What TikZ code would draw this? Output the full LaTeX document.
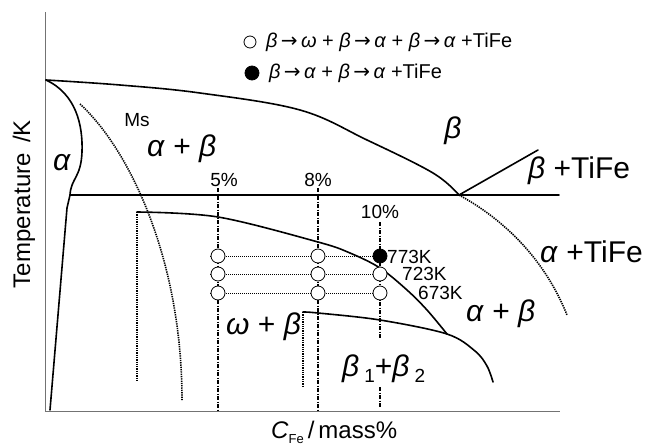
\documentclass[tikz,border=0pt]{standalone}
\usepackage{fontspec}
\setmainfont{Liberation Sans}
\newfontfamily\arrfont{DejaVu Sans}
\newcommand{\Galpha}{\textit{α}}
\newcommand{\Gbeta}{\textit{β}}
\newcommand{\Gomega}{\textit{ω}}
\newcommand{\Arr}{\,{\arrfont →}\,}
\begin{document}
\begin{tikzpicture}[x=1pt,y=-1pt]
\tikzset{
  phase/.style={line width=1.6pt, line join=round, line cap=round},
  axisline/.style={line width=0.9pt, draw=black!55},
  msline/.style={line width=1.6pt, dash pattern=on 1.3pt off 1pt},
  compline/.style={line width=1.2pt, dash pattern=on 4pt off 1.5pt on 1pt off 1.5pt},
  vdot/.style={line width=1.4pt, dash pattern=on 1.3pt off 1pt},
  rowline/.style={line width=0.6pt, dash pattern=on 1pt off 1pt},
  sample/.style={circle, draw, fill=white, minimum size=14pt, inner sep=0pt, line width=0.8pt},
  filledsample/.style={circle, draw, fill=black, minimum size=14pt, inner sep=0pt, line width=0.8pt},
  biglabel/.style={font=\fontsize{30}{32}\selectfont, inner sep=0pt},
  midlabel/.style={font=\fontsize{19}{22}\selectfont, inner sep=0pt},
  leglabel/.style={font=\fontsize{20}{22}\selectfont, inner sep=0pt},
  axislabel/.style={font=\fontsize{24}{26}\selectfont, inner sep=0pt}
}
\useasboundingbox (0,0) rectangle (659,447);
\fill[white] (0,0) rectangle (659,447);

% axes
\coordinate (yt) at (45,12);
\coordinate (o) at (45,411);
\coordinate (xr) at (560,411);
\draw[axisline] (yt) -- (o) -- (xr);

% beta transus (top curve)
\coordinate (e) at (459,195);
\draw[phase] plot[smooth, tension=0.6] coordinates {(46,80) (120,85) (200,93) (300,110) (367,140) (433,173) (459,195)};

% alpha boundary
\coordinate (a0) at (46,80);
\coordinate (a1) at (70,195);
\coordinate (a2) at (67,208);
\coordinate (a3) at (50,410);
\draw[phase] (a0) .. controls (76,94) and (83,125) .. (82,152)
  .. controls (81,178) and (71,178) .. (a1) -- (a2) -- (a3);

% eutectoid horizontal
\coordinate (h1) at (559,195);
\draw[phase] (a1) -- (h1);

% beta + TiFe boundary
\coordinate (bt) at (538,150);
\draw[phase] (e) -- (bt);

% alpha+TiFe dotted boundary
\coordinate (at) at (567,315);
\draw[msline] (e) .. controls (505,220) and (545,260) .. (at);

% Ms curve
\coordinate (ms0) at (80,104);
\coordinate (ms1) at (182,400);
\draw[msline] (ms0) .. controls (130,150) and (182,260) .. (ms1);

% lower alpha+beta boundary
\coordinate (l0) at (137,212);
\coordinate (l0b) at (137,380);
\draw[vdot] (l0) -- (l0b);
\draw[phase] plot[smooth, tension=0.55] coordinates {(137,212) (218,217) (318,242) (350,253) (380,268) (407,290) (427,310) (447,334)};

% beta1 + beta2 dome
\coordinate (d0) at (303,312);
\coordinate (d0b) at (303,387);
\draw[vdot] (d0) -- (d0b);
\draw[phase] plot[smooth, tension=0.55] coordinates {(303,312) (318,313) (380,320) (447,334) (475,351) (487,366) (493,382)};

% composition lines
\coordinate (c5t) at (218,188);  \coordinate (c5b) at (218,410);
\coordinate (c8t) at (318,188);  \coordinate (c8b) at (318,410);
\coordinate (c10t) at (380,222); \coordinate (c10m) at (380,338);
\coordinate (c10n) at (380,387); \coordinate (c10b) at (380,408);
\draw[compline] (c5t) -- (c5b);
\draw[compline] (c8t) -- (c8b);
\draw[compline] (c10t) -- (c10m);
\draw[compline] (c10n) -- (c10b);

% rows of samples
\foreach \r/\yy in {a/256, b/274, c/293} {
  \coordinate (row\r) at (210,\yy);
  \coordinate (s5\r) at (218,\yy);
  \coordinate (s8\r) at (318,\yy);
  \coordinate (s10\r) at (380,\yy);
  \draw[rowline] (row\r) -- (s10\r);
}
\node[sample] (n5a) at (s5a) {};
\node[sample] (n5b) at (s5b) {};
\node[sample] (n5c) at (s5c) {};
\node[sample] (n8a) at (s8a) {};
\node[sample] (n8b) at (s8b) {};
\node[sample] (n8c) at (s8c) {};
\node[filledsample] (n10a) at (s10a) {};
\node[sample] (n10b) at (s10b) {};
\node[sample] (n10c) at (s10c) {};

% temperature labels
\node[midlabel, anchor=west] (t773) at (387,257) {773K};
\node[midlabel, anchor=west] (t723) at (402,274) {723K};
\node[midlabel, anchor=west] (t673) at (418,293) {673K};

% composition labels
\node[midlabel] (p5) at (224,180) {5\%};
\node[midlabel] (p8) at (318,180) {8\%};
\node[midlabel] (p10) at (380,212) {10\%};

% legend
\node[sample, minimum size=12pt] (lg1) at (250,42) {};
\node[leglabel, anchor=west] (lt1) at (266,42) {\Gbeta\Arr\Gomega\ +\ \Gbeta\Arr\Galpha\ +\ \Gbeta\Arr\Galpha\ +TiFe};
\node[filledsample, minimum size=14pt] (lg2) at (252,73) {};
\node[leglabel, anchor=west] (lt2) at (269,73) {\Gbeta\Arr\Galpha\ +\ \Gbeta\Arr\Galpha\ +TiFe};

% phase labels
\node[biglabel] (lbeta) at (453,131) {\Gbeta};
\node[biglabel, anchor=west] (lbtife) at (528,171) {\Gbeta\ +TiFe};
\node[biglabel, anchor=west] (latife) at (540,252) {\Galpha\ +TiFe};
\node[biglabel, anchor=west] (lab1) at (147,149) {\Galpha\ +\ \Gbeta};
\node[biglabel, anchor=west] (lab2) at (466,314) {\Galpha\ +\ \Gbeta};
\node[biglabel, anchor=west] (lob) at (226,327) {\Gomega\ +\ \Gbeta};
\node[biglabel, anchor=west] (lb12) at (342,369) {\Gbeta\,{\fontsize{19}{22}\selectfont\raisebox{-6pt}{1}}+\Gbeta\,{\fontsize{19}{22}\selectfont\raisebox{-6pt}{2}}};
\node[biglabel] (lalpha) at (62,163) {\Galpha};
\node[midlabel] (lms) at (137,120) {Ms};

% axis labels
\node[axislabel, rotate=90] (ylab) at (24,204) {Temperature \,/K};
\node[axislabel, anchor=west] (xlab) at (271,432) {\textit{C}{\fontsize{13}{15}\selectfont\raisebox{-5pt}{Fe}}\,/\,mass\%};
\end{tikzpicture}
\end{document}
